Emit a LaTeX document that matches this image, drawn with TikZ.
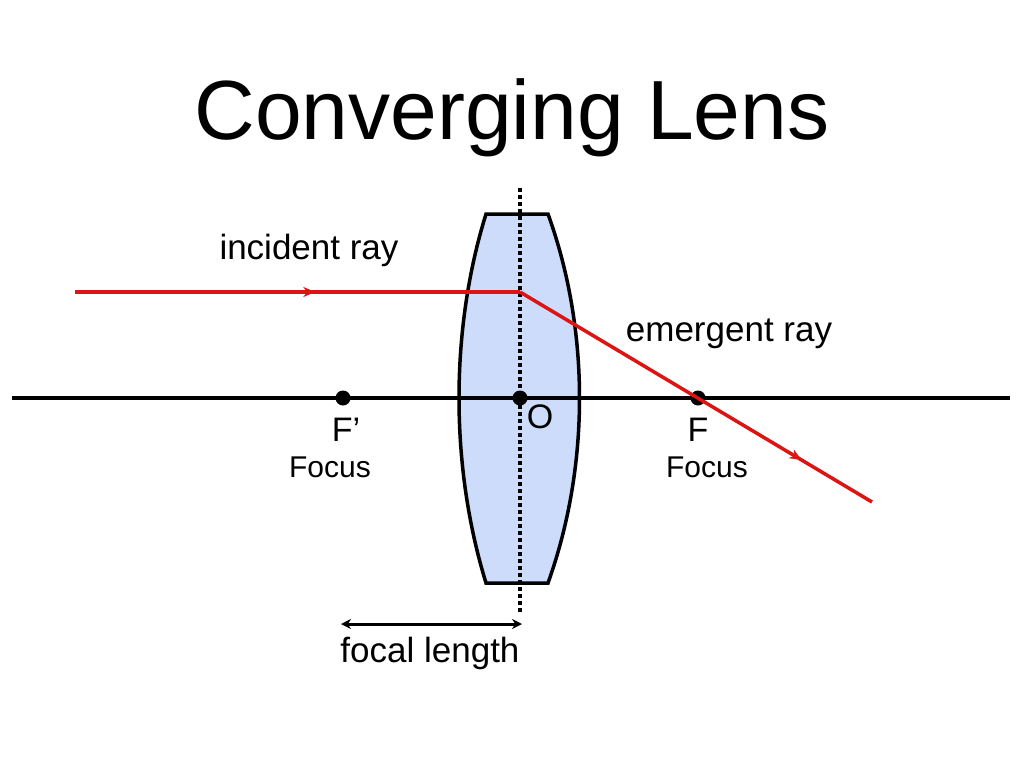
\documentclass[tikz,border=0pt]{standalone}
\usepackage{fontspec}
\setmainfont{Liberation Sans}
\usetikzlibrary{decorations.markings,arrows.meta}
\definecolor{lensfill}{RGB}{204,220,250}
\definecolor{raycol}{RGB}{220,20,20}
\begin{document}
\begin{tikzpicture}[x=1pt,y=-1pt,
  ray/.style={draw=raycol,line width=3.5pt},
  midarrow/.style={postaction={decorate},decoration={markings,mark=at position #1 with {\arrow{Stealth[length=12pt,width=10pt]}}}},
  dot/.style={circle,fill=black,inner sep=0pt,minimum size=15pt},
  lbl/.style={font=\fontsize{30}{34}\selectfont,inner sep=0pt}]
\useasboundingbox (0,0) rectangle (1024,768);
\node[font=\fontsize{84}{90}\selectfont] (title) at (512,118) {Converging Lens};
% lens
\draw[fill=lensfill,line width=3.5pt] (486,214) -- (548,214) .. controls (590,330) and (590,466) .. (548,583) -- (486,583) .. controls (450,466) and (450,330) .. (486,214) -- cycle;
% axis
\coordinate (axL) at (12,398); \coordinate (axR) at (1010,398);
\draw[line width=3.5pt] (axL) -- (axR);
\coordinate (dT) at (520,188); \coordinate (dB) at (520,612);
\draw[line width=3.5pt,dash pattern=on 3.5pt off 3.5pt] (dT) -- (dB);
\node[dot] (Fp) at (343,398) {};
\node[dot] (O) at (520,398) {};
\node[dot] (F) at (698,398) {};
% rays
\coordinate (r0) at (75,292); \coordinate (r1) at (520,292); \coordinate (r2) at (872,502);
\draw[ray,midarrow=0.54] (r0) -- (r1);
\draw[ray,midarrow=0.8] (r1) -- (r2);
% focal length
\coordinate (fl0) at (341,624); \coordinate (fl1) at (522,624);
\draw[line width=3pt,{Stealth[length=10pt,width=10pt]}-{Stealth[length=10pt,width=10pt]}] (fl0) -- (fl1);
% labels
\node[lbl,font=\fontsize{35}{40}\selectfont] (inc) at (309,250) {incident ray};
\node[lbl,font=\fontsize{35}{40}\selectfont] (em) at (729,334) {emergent ray};
\node[lbl,font=\fontsize{34}{38}\selectfont] (Fpl) at (346,430) {F’};
\node[lbl,font=\fontsize{34}{38}\selectfont] (Ol) at (540,417) {O};
\node[lbl,font=\fontsize{34}{38}\selectfont] (Fl) at (698,430) {F};
\node[lbl] (foc1) at (330,467) {Focus};
\node[lbl] (foc2) at (707,467) {Focus};
\node[lbl,font=\fontsize{35}{40}\selectfont] (fll) at (430,653) {focal length};
\end{tikzpicture}
\end{document}
